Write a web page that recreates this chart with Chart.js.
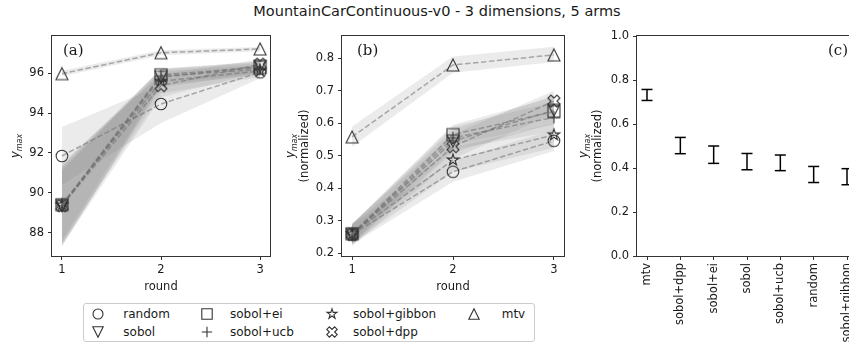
<!DOCTYPE html>
<html>
<head>
<meta charset="utf-8">
<script src="https://cdn.jsdelivr.net/npm/chart.js@4.4.0/dist/chart.umd.min.js"></script>
<style>
  html, body { margin: 0; padding: 0; background: #fff; overflow: hidden; }
  body { width: 849px; height: 352px; position: relative; font-family: "DejaVu Sans", sans-serif; color: #1a1a1a; }
  canvas { position: absolute; top: 0; }
  #title { position: absolute; left: 0; width: 874px; top: 3px; text-align: center; font-size: 14.5px; white-space: nowrap; }
  #legend { position: absolute; left: 83px; top: 303px; width: 450px; height: 37px; border: 1px solid #ccc; border-radius: 3px; }
  .item { position: absolute; font-size: 12px; line-height: 14px; white-space: nowrap; }
  .mk { position: absolute; }
</style>
</head>
<body>
<div id="title">MountainCarContinuous-v0 - 3 dimensions, 5 arms</div>
<canvas id="chartA" width="290" height="300" style="left:0px"></canvas>
<canvas id="chartB" width="300" height="300" style="left:275px"></canvas>
<canvas id="chartC" width="310" height="352" style="left:570px"></canvas>
<div id="legend"></div>
<script>
// x values of panels (a) and (b)
const rounds = [1, 2, 3];
// one row per method, same order as the legend
const methods = ["random", "sobol", "sobol+ei", "sobol+ucb", "sobol+gibbon", "sobol+dpp", "mtv"];

// panel (a): raw y_max, mean and band
const rawMean = [
  [91.85, 94.46, 96.05],
  [89.35, 95.8, 96.35],
  [89.4, 95.92, 96.3],
  [89.35, 95.85, 96.2],
  [89.4, 95.6, 96.12],
  [89.35, 95.38, 96.45],
  [95.98, 97.03, 97.22],
];
const rawLow = [
  [90.4, 93.5, 95.75],
  [87.4, 95.3, 96.0],
  [87.6, 95.5, 96.0],
  [87.3, 95.4, 95.9],
  [87.5, 95.0, 95.8],
  [87.35, 94.8, 96.05],
  [95.85, 96.9, 97.1],
];
const rawHigh = [
  [93.3, 95.4, 96.35],
  [91.3, 96.2, 96.6],
  [91.1, 96.25, 96.55],
  [91.4, 96.2, 96.5],
  [91.2, 96.1, 96.4],
  [91.5, 95.95, 96.7],
  [96.12, 97.15, 97.32],
];
const rawTicks = [88, 90, 92, 94, 96];

// panel (b): normalized y_max
const normMean = [
  [0.258, 0.451, 0.546],
  [0.258, 0.545, 0.64],
  [0.26, 0.565, 0.636],
  [0.258, 0.555, 0.618],
  [0.26, 0.487, 0.564],
  [0.258, 0.528, 0.668],
  [0.558, 0.779, 0.81],
];
const normLow = [
  [0.228, 0.42, 0.515],
  [0.228, 0.51, 0.6],
  [0.232, 0.535, 0.595],
  [0.228, 0.52, 0.575],
  [0.23, 0.45, 0.525],
  [0.222, 0.49, 0.63],
  [0.528, 0.755, 0.788],
];
const normHigh = [
  [0.288, 0.485, 0.58],
  [0.29, 0.58, 0.685],
  [0.29, 0.595, 0.68],
  [0.29, 0.59, 0.665],
  [0.29, 0.525, 0.6],
  [0.292, 0.565, 0.7],
  [0.59, 0.805, 0.835],
];
const normTicks = [0.2, 0.3, 0.4, 0.5, 0.6, 0.7, 0.8];

// panel (c): error bars of the final normalized y_max
const finalOrder = ["mtv", "sobol+dpp", "sobol+ei", "sobol", "sobol+ucb", "random", "sobol+gibbon"];
const finalLow = [0.707, 0.465, 0.421, 0.392, 0.388, 0.334, 0.324];
const finalHigh = [0.757, 0.539, 0.5, 0.466, 0.459, 0.407, 0.397];
const finalTicks = [0, 0.2, 0.4, 0.6, 0.8, 1.0];

const markerKinds = ["circle", "triDown", "square", "plus", "star", "xFilled", "triUp"];

const FONT = "DejaVu Sans";
const TEXT = "#1a1a1a";
const AXIS = "#333";
const lineColor = "rgba(110,110,110,0.55)";
const bandColor = "rgba(120,120,120,0.15)";

// hollow marker images, used as pointStyle and in the legend
function makeMarker(kind, r) {
  const c = document.createElement("canvas");
  c.width = 16;
  c.height = 16;
  const ctx = c.getContext("2d");
  ctx.strokeStyle = AXIS;
  ctx.lineWidth = 1.1;
  ctx.lineJoin = "miter";
  ctx.translate(8, 8);
  ctx.beginPath();
  if (kind === "circle") ctx.arc(0, 0, r - 0.2, 0, Math.PI * 2);
  if (kind === "square") ctx.rect(-r, -r, 2 * r, 2 * r);
  if (kind === "triUp") { ctx.moveTo(0, -r); ctx.lineTo(-r, r); ctx.lineTo(r, r); ctx.closePath(); }
  if (kind === "triDown") { ctx.moveTo(0, r); ctx.lineTo(-r, -r); ctx.lineTo(r, -r); ctx.closePath(); }
  if (kind === "plus") { ctx.moveTo(-r, 0); ctx.lineTo(r, 0); ctx.moveTo(0, -r); ctx.lineTo(0, r); }
  if (kind === "star") {
    for (let k = 0; k < 10; k++) {
      const a = -Math.PI / 2 + (k * Math.PI) / 5;
      const rr = k % 2 === 0 ? r : r * 0.381966;
      if (k === 0) ctx.moveTo(rr * Math.cos(a), rr * Math.sin(a));
      else ctx.lineTo(rr * Math.cos(a), rr * Math.sin(a));
    }
    ctx.closePath();
  }
  if (kind === "xFilled") {
    const pts = [[-1, -2], [0, -1], [1, -2], [2, -1], [1, 0], [2, 1], [1, 2], [0, 1], [-1, 2], [-2, 1], [-1, 0], [-2, -1]];
    pts.forEach(([px, py], k) => {
      if (k === 0) ctx.moveTo(px * r / 2, py * r / 2);
      else ctx.lineTo(px * r / 2, py * r / 2);
    });
    ctx.closePath();
  }
  ctx.stroke();
  return c;
}
const markerImgs = markerKinds.map((k) => makeMarker(k, 6));
const legendImgs = markerKinds.map((k) => makeMarker(k, 5.2));

function bandDatasets(mean, low, high) {
  const ds = [];
  methods.forEach((m, i) => {
    ds.push({
      label: m,
      data: rounds.map((r, k) => ({ x: r, y: mean[i][k] })),
      borderColor: lineColor,
      borderWidth: 1.5,
      borderDash: [5.5, 2.5],
      pointStyle: markerImgs[i],
      pointRadius: 6,
      fill: false,
      order: 1,
    });
  });
  methods.forEach((m, i) => {
    const lowIndex = ds.length;
    ds.push({
      label: m + " low",
      data: rounds.map((r, k) => ({ x: r, y: low[i][k] })),
      borderColor: "rgba(0,0,0,0)",
      borderWidth: 1,
      pointRadius: 0,
      fill: false,
      order: 2,
    });
    ds.push({
      label: m + " high",
      data: rounds.map((r, k) => ({ x: r, y: high[i][k] })),
      borderColor: "rgba(0,0,0,0)",
      borderWidth: 1,
      pointRadius: 0,
      backgroundColor: bandColor,
      fill: lowIndex,
      order: 2,
    });
  });
  return ds;
}

// draws "y" with a "max" subscript, rotated
function drawYmax(ctx, x, yc) {
  ctx.save();
  ctx.translate(x, yc);
  ctx.rotate(-Math.PI / 2);
  ctx.fillStyle = TEXT;
  ctx.textBaseline = "middle";
  ctx.textAlign = "left";
  ctx.font = "italic 11.5px " + FONT;
  const wy = ctx.measureText("y").width;
  ctx.font = "italic 8px " + FONT;
  const wm = ctx.measureText("max").width;
  const start = -(wy + wm) / 2;
  ctx.font = "italic 11.5px " + FONT;
  ctx.fillText("y", start, -1);
  ctx.font = "italic 8px " + FONT;
  ctx.fillText("max", start + wy, 3);
  ctx.restore();
}

function drawRotated(ctx, text, x, yc) {
  ctx.save();
  ctx.translate(x, yc);
  ctx.rotate(-Math.PI / 2);
  ctx.fillStyle = TEXT;
  ctx.font = "11.5px " + FONT;
  ctx.textAlign = "center";
  ctx.textBaseline = "middle";
  ctx.fillText(text, 0, 0);
  ctx.restore();
}

// frame, panel letter and axis titles
function decoPlugin(cfg) {
  return {
    id: "deco",
    afterDraw(chart) {
      const { ctx, chartArea: a } = chart;
      ctx.save();
      ctx.strokeStyle = AXIS;
      ctx.lineWidth = 1;
      ctx.strokeRect(Math.round(a.left) - 0.5, Math.round(a.top) - 0.5, Math.round(a.right - a.left) + 1, Math.round(a.bottom - a.top) + 1);
      ctx.fillStyle = TEXT;
      ctx.font = "15px DejaVu Serif";
      ctx.textBaseline = "middle";
      ctx.textAlign = cfg.labelAlign;
      ctx.fillText(cfg.label, cfg.labelX, cfg.labelY);
      const yc = (a.top + a.bottom) / 2;
      drawYmax(ctx, cfg.ymaxX, yc);
      if (cfg.normX) drawRotated(ctx, "(normalized)", cfg.normX, yc);
      if (cfg.xTitle) {
        ctx.font = "11.5px " + FONT;
        ctx.textAlign = "center";
        ctx.fillStyle = TEXT;
        ctx.fillText(cfg.xTitle, (a.left + a.right) / 2, 287);
      }
      ctx.restore();
    },
  };
}

const tickFont = { family: FONT, size: 11.5 };
const tickGrid = { drawOnChartArea: false, drawTicks: true, tickLength: 4, color: AXIS, lineWidth: 1 };

function xRoundScale() {
  return {
    type: "linear",
    min: 0.9,
    max: 3.1,
    afterBuildTicks: (s) => { s.ticks = rounds.map((v) => ({ value: v })); },
    ticks: { font: tickFont, color: TEXT, padding: 3, maxRotation: 0, callback: (v) => String(v) },
    grid: tickGrid,
    border: { display: false },
    afterFit: (s) => { s.height = 44; },
  };
}

function yScale(min, max, ticks, width, fmt) {
  return {
    type: "linear",
    min: min,
    max: max,
    afterBuildTicks: (s) => { s.ticks = ticks.map((v) => ({ value: v })); },
    ticks: { font: tickFont, color: TEXT, padding: 4, callback: fmt },
    grid: tickGrid,
    border: { display: false },
    afterFit: (s) => { s.width = width; },
  };
}

const common = {
  responsive: false,
  animation: false,
  events: [],
  plugins: { legend: { display: false }, tooltip: { enabled: false } },
};

new Chart(document.getElementById("chartA"), {
  type: "line",
  data: { datasets: bandDatasets(rawMean, rawLow, rawHigh) },
  options: {
    ...common,
    layout: { padding: { top: 36, right: 20, left: 0, bottom: 0 } },
    scales: {
      x: xRoundScale(),
      y: yScale(86.83, 97.87, rawTicks, 52, (v) => String(v)),
    },
  },
  plugins: [decoPlugin({ label: "(a)", labelX: 63, labelY: 51, labelAlign: "left", ymaxX: 17, xTitle: "round" })],
});

new Chart(document.getElementById("chartB"), {
  type: "line",
  data: { datasets: bandDatasets(normMean, normLow, normHigh) },
  options: {
    ...common,
    layout: { padding: { top: 36, right: 11, left: 0, bottom: 0 } },
    scales: {
      x: xRoundScale(),
      y: yScale(0.192, 0.868, normTicks, 67, (v) => v.toFixed(1)),
    },
  },
  plugins: [decoPlugin({ label: "(b)", labelX: 82, labelY: 51, labelAlign: "left", ymaxX: 17, normX: 30, xTitle: "round" })],
});

new Chart(document.getElementById("chartC"), {
  type: "scatter",
  data: {
    datasets: finalOrder.map((m, i) => ({
      label: m,
      data: [{ x: i, y: finalLow[i] }, { x: i, y: finalHigh[i] }],
      showLine: true,
      borderColor: "#000",
      borderWidth: 1.5,
      pointStyle: "line",
      pointRadius: 5.5,
      pointBorderColor: "#000",
      pointBorderWidth: 1.5,
    })),
  },
  options: {
    ...common,
    layout: { padding: { top: 36, right: 23, left: 0, bottom: 0 } },
    scales: {
      x: {
        type: "linear",
        min: -0.3,
        max: 6.3,
        afterBuildTicks: (s) => { s.ticks = finalOrder.map((m, i) => ({ value: i })); },
        ticks: { font: tickFont, color: TEXT, padding: 3, minRotation: 90, maxRotation: 90, autoSkip: false, callback: (v) => finalOrder[v] },
        grid: tickGrid,
        border: { display: false },
        afterFit: (s) => { s.height = 96; },
      },
      y: yScale(0, 1, finalTicks, 67, (v) => v.toFixed(1)),
    },
  },
  plugins: [decoPlugin({ label: "(c)", labelX: 278, labelY: 51, labelAlign: "right", ymaxX: 15, normX: 28 })],
});

// legend, filled column by column like the original
const legend = document.getElementById("legend");
const colMarkerX = [14.3, 123.3, 247.7, 390.3];
const colTextX = [39.3, 146, 269, 417.7];
const rowY = [9.5, 27.5];
methods.forEach((m, i) => {
  const col = Math.floor(i / 2);
  const row = i % 2;
  const img = document.createElement("img");
  img.className = "mk";
  img.src = legendImgs[i].toDataURL();
  img.style.left = colMarkerX[col] - 8 + "px";
  img.style.top = rowY[row] - 8 + "px";
  legend.appendChild(img);
  const span = document.createElement("span");
  span.className = "item";
  span.textContent = m;
  span.style.left = colTextX[col] + "px";
  span.style.top = rowY[row] - 7 + "px";
  legend.appendChild(span);
});
</script>
</body>
</html>
